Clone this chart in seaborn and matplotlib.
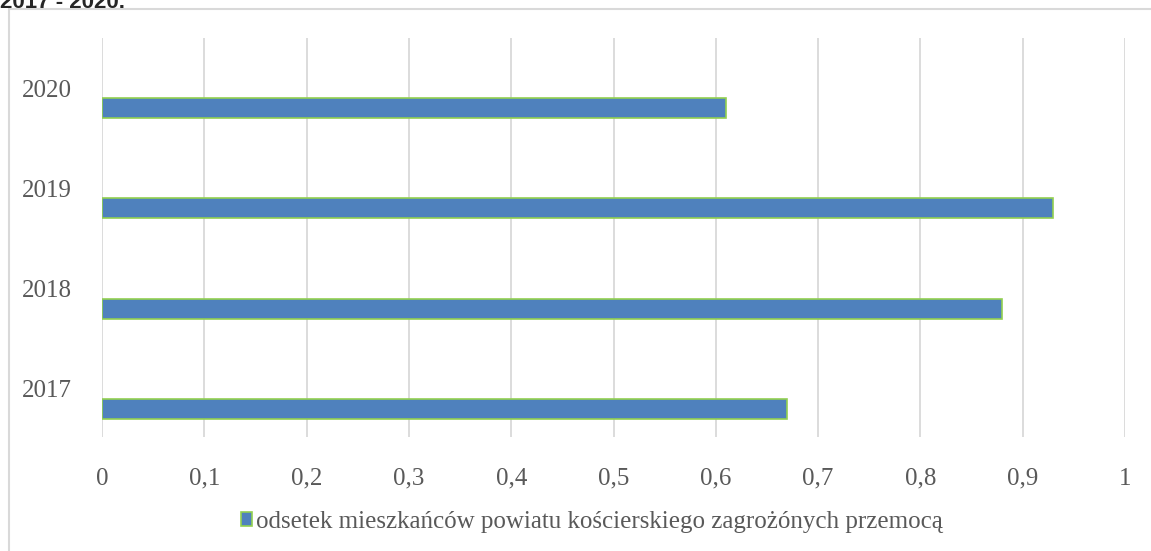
import pandas as pd
import seaborn as sns
import matplotlib.pyplot as plt
from matplotlib.patches import Rectangle

# data
years = ['2020', '2019', '2018', '2017']
values = [0.61, 0.93, 0.88, 0.67]
series_label = 'odsetek mieszkańców powiatu kościerskiego zagrożónych przemocą'
x_ticks = [0, 0.1, 0.2, 0.3, 0.4, 0.5, 0.6, 0.7, 0.8, 0.9, 1]
x_tick_labels = ['0', '0,1', '0,2', '0,3', '0,4', '0,5', '0,6', '0,7', '0,8', '0,9', '1']
title = '2017 - 2020.'

df = pd.DataFrame({'rok': years, 'odsetek': values})

sns.set_theme(style='white')
plt.rcParams['font.family'] = ['Liberation Serif', 'DejaVu Serif']
text_color = '#595959'

fig = plt.figure(figsize=(11.51, 5.51), dpi=100)
ax = fig.add_axes([102 / 1151, 114 / 551, 1023 / 1151, 399 / 551])

sns.barplot(data=df, x='odsetek', y='rok', order=years, orient='h',
            color='#4f81bd', saturation=1, edgecolor='#92d050', linewidth=1.2,
            width=0.2, label=series_label, ax=ax)

ax.set_xlim(0, 1)
ax.set_ylim(3.28, -0.7)
ax.set_xticks(x_ticks)
ax.set_xticklabels(x_tick_labels)
# category labels sit above the bars
ax.set_yticks([i - 0.2 for i in range(len(years))])
ax.set_yticklabels(years)
ax.tick_params(axis='x', length=0, pad=22, labelsize=18, labelcolor=text_color)
ax.tick_params(axis='y', length=0, pad=22, labelsize=18, labelcolor=text_color)
ax.set_xlabel('')
ax.set_ylabel('')
ax.xaxis.grid(True, color='#d9d9d9', linewidth=1.3)
ax.set_axisbelow(True)
for s in ax.spines.values():
    s.set_visible(False)

if ax.legend_:
    ax.legend_.remove()
handles, labels = ax.get_legend_handles_labels()
fig.legend(handles, labels, loc='center', bbox_to_anchor=(0.514, 1 - 522 / 551),
           frameon=False, fontsize=18, labelcolor=text_color,
           handlelength=0.45, handleheight=0.45, handletextpad=0.15)

# chart frame, cut off on the right and bottom
fig.patches.append(Rectangle((9 / 1151, -0.05), 1.0, 1 - 9 / 551 + 0.05,
                             transform=fig.transFigure, fill=False,
                             edgecolor='#d9d9d9', linewidth=1.5))

fig.text(0.0, 1 - 8 / 551, title, fontsize=16, fontweight='bold',
         family=['Liberation Sans', 'DejaVu Sans'], va='baseline', ha='left')

fig.savefig('out.png', dpi=100)
